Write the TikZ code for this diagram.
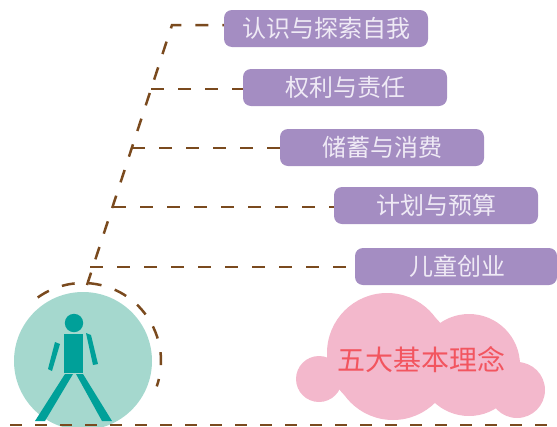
\documentclass[tikz,border=0pt]{standalone}
\usepackage{fontspec}
\setmainfont{Noto Sans CJK SC}
\definecolor{boxpurple}{HTML}{A48DC2}
\definecolor{boxtext}{HTML}{EFEAF5}
\definecolor{linebrown}{HTML}{7A4A1E}
\definecolor{ballteal}{HTML}{A5D8CE}
\definecolor{manteal}{HTML}{00A099}
\definecolor{cloudpink}{HTML}{F3B8CC}
\definecolor{cloudred}{HTML}{F2555F}
\tikzset{
    themebox/.style={fill=boxpurple,text=boxtext,rounded corners=8pt,minimum width=204pt,minimum height=37pt,inner sep=0pt,font=\fontsize{24}{25}\selectfont},
    brownline/.style={linebrown,line width=2.5pt,dash pattern=on 13pt off 14pt},
    floorline/.style={linebrown,line width=2.5pt,dash pattern=on 12pt off 13pt}
}
\begin{document}
\begin{tikzpicture}[x=1pt,y=-1pt]
        \useasboundingbox (0,0) rectangle (557,426);
        \node [circle,fill=ballteal,minimum size=138pt,inner sep=0pt] (ball) at (83,361) {};
        \fill [cloudpink] (387,353) circle (60pt) (469,365) circle (51pt) (319,379) circle (23pt) (517,390) circle (28pt) (393,360) circle (60pt);
        \node [text=cloudred,font=\fontsize{28}{29}\selectfont,inner sep=0pt] (cloud) at (421,360) {五大基本理念};
        \fill [manteal] (74,323) circle (9.2pt);
        \fill [manteal] (64,334) rectangle (83,373);
        \fill [manteal] (55,342)--(60,344)--(52,371)--(48,369)--cycle;
        \fill [manteal] (86,333)--(91,335)--(98,364)--(93,365)--cycle;
        \fill [manteal] (65,374)--(73,374)--(45,421)--(35,421)--cycle;
        \fill [manteal] (76,374)--(83,374)--(112,421)--(102,421)--cycle;
        \node [themebox] (box1) at (326,28.5) {认识与探索自我};
        \node [themebox] (box2) at (345,87.5) {权利与责任};
        \node [themebox] (box3) at (382,147.5) {储蓄与消费};
        \node [themebox] (box4) at (436,205.5) {计划与预算};
        \node [themebox,minimum width=202pt] (box5) at (456,266.5) {\hspace*{3pt}儿童创业};
        \coordinate (root) at (87,285);
        \coordinate (corner) at (172,25);
        \coordinate (fork2) at (151,89);
        \coordinate (fork3) at (132,148);
        \coordinate (fork4) at (113,207);
        \coordinate (fork5) at (90,267);
        \coordinate (floor) at (10,425);
        \draw [brownline] (root)--(corner)--(box1.west |- corner);
        \draw [brownline] (fork2)--(box2.west |- fork2);
        \draw [brownline] (fork3)--(box3.west |- fork3);
        \draw [brownline] (fork4)--(box4.west |- fork4);
        \draw [brownline] (fork5)--(box5.west |- fork5);
        \draw [brownline] (ball.center)++(125.5:78pt) arc [start angle=125.5,end angle=-19,radius=78pt];
        \draw [floorline] (floor)--(557,425);
    \end{tikzpicture}
\end{document}
